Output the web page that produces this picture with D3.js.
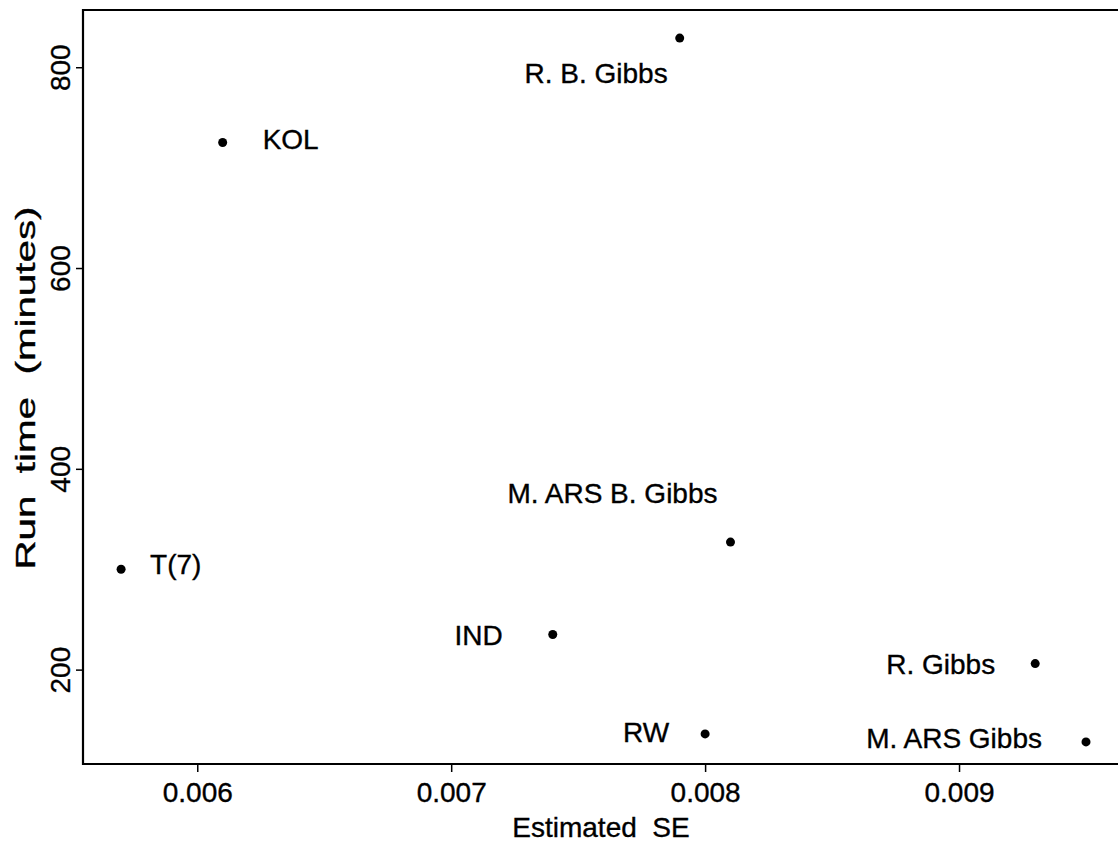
<!DOCTYPE html>
<html>
<head>
<meta charset="utf-8">
<script src="https://cdn.jsdelivr.net/npm/d3@7"></script>
<style>
  html, body { margin: 0; padding: 0; background: #fff; }
  svg text { font-family: "Liberation Sans", Arial, Helvetica, sans-serif; fill: #000; stroke: #000; stroke-width: 0.35px; }
</style>
</head>
<body>
<svg id="chart" width="1118" height="843"></svg>
<script>
// Samplers compared by precision of the estimate and run time
const methods   = ["R. B. Gibbs", "KOL", "M. ARS B. Gibbs", "T(7)", "IND", "R. Gibbs", "RW", "M. ARS Gibbs"];
const estSE     = [0.0079, 0.0061, 0.0081, 0.0057, 0.0074, 0.0093, 0.0080, 0.0095];
const runTime   = [829, 725, 327, 300, 235, 206, 136, 128];
const xTicks    = [0.006, 0.007, 0.008, 0.009];
const yTicks    = [200, 400, 600, 800];

// Where each label sits relative to its point: [dx, dy, anchor]
const labelPlacement = {
  "R. B. Gibbs":     [-12,  45, "end"],
  "KOL":             [ 40,   6, "start"],
  "M. ARS B. Gibbs": [-13, -39, "end"],
  "T(7)":            [ 29,   5, "start"],
  "IND":             [-50,  11, "end"],
  "R. Gibbs":        [-40,  10, "end"],
  "RW":              [-36,   8, "end"],
  "M. ARS Gibbs":    [-44,   6, "end"]
};

const svg = d3.select("#chart");
const plot = { left: 83, top: 10, right: 1119, bottom: 764 };

const x = d3.scaleLinear().domain([0.00555, 0.00963]).range([plot.left, plot.right]);
const y = d3.scaleLinear().domain([106, 857]).range([plot.bottom, plot.top]);

const fontSize = 28;

// Frame (open on the right where the panel runs off the page)
svg.append("path")
  .attr("d", `M${plot.right + 10},${plot.top} H${plot.left} V${plot.bottom} H${plot.right + 10}`)
  .attr("fill", "none").attr("stroke", "#000").attr("stroke-width", 2.2);

// X axis
const xAxis = svg.append("g")
  .attr("transform", `translate(0,${plot.bottom})`)
  .call(d3.axisBottom(x).tickValues(xTicks).tickFormat(d3.format(".3f")).tickSize(8).tickPadding(10));
xAxis.select(".domain").remove();
xAxis.selectAll("line").attr("stroke", "#000").attr("stroke-width", 1.5);
xAxis.selectAll("text").attr("font-size", fontSize).attr("fill", "#000")
  .attr("font-family", "Liberation Sans, Arial, sans-serif");

// Y axis with rotated tick labels
const yAxis = svg.append("g")
  .attr("transform", `translate(${plot.left},0)`)
  .call(d3.axisLeft(y).tickValues(yTicks).tickFormat(d3.format("d")).tickSize(7));
yAxis.select(".domain").remove();
yAxis.selectAll("line").attr("stroke", "#000").attr("stroke-width", 1.5);
yAxis.selectAll("text")
  .attr("font-size", fontSize).attr("fill", "#000")
  .attr("font-family", "Liberation Sans, Arial, sans-serif")
  .attr("x", null).attr("dy", null)
  .attr("text-anchor", "middle")
  .attr("transform", "translate(-13,0) rotate(-90)");

// Axis titles
svg.append("text")
  .attr("x", (plot.left + plot.right) / 2)
  .attr("y", 837)
  .attr("text-anchor", "middle")
  .attr("font-size", fontSize)
  .attr("xml:space", "preserve")
  .text("Estimated  SE");

// The vertical title is set wide, stretched along its run
svg.append("text")
  .attr("transform", `translate(35,${(plot.top + plot.bottom) / 2 + 1}) rotate(-90)`)
  .attr("text-anchor", "middle")
  .attr("font-size", fontSize)
  .attr("xml:space", "preserve")
  .attr("textLength", 363)
  .attr("lengthAdjust", "spacingAndGlyphs")
  .text("Run  time  (minutes)");

// Points and labels
const data = methods.map((m, i) => ({ name: m, se: estSE[i], time: runTime[i] }));

svg.append("g").selectAll("circle")
  .data(data).join("circle")
  .attr("cx", d => x(d.se))
  .attr("cy", d => y(d.time))
  .attr("r", 4.5)
  .attr("fill", "#000");

svg.append("g").selectAll("text")
  .data(data).join("text")
  .attr("x", d => x(d.se) + labelPlacement[d.name][0])
  .attr("y", d => y(d.time) + labelPlacement[d.name][1])
  .attr("text-anchor", d => labelPlacement[d.name][2])
  .attr("font-size", fontSize)
  .text(d => d.name);
</script>
</body>
</html>
